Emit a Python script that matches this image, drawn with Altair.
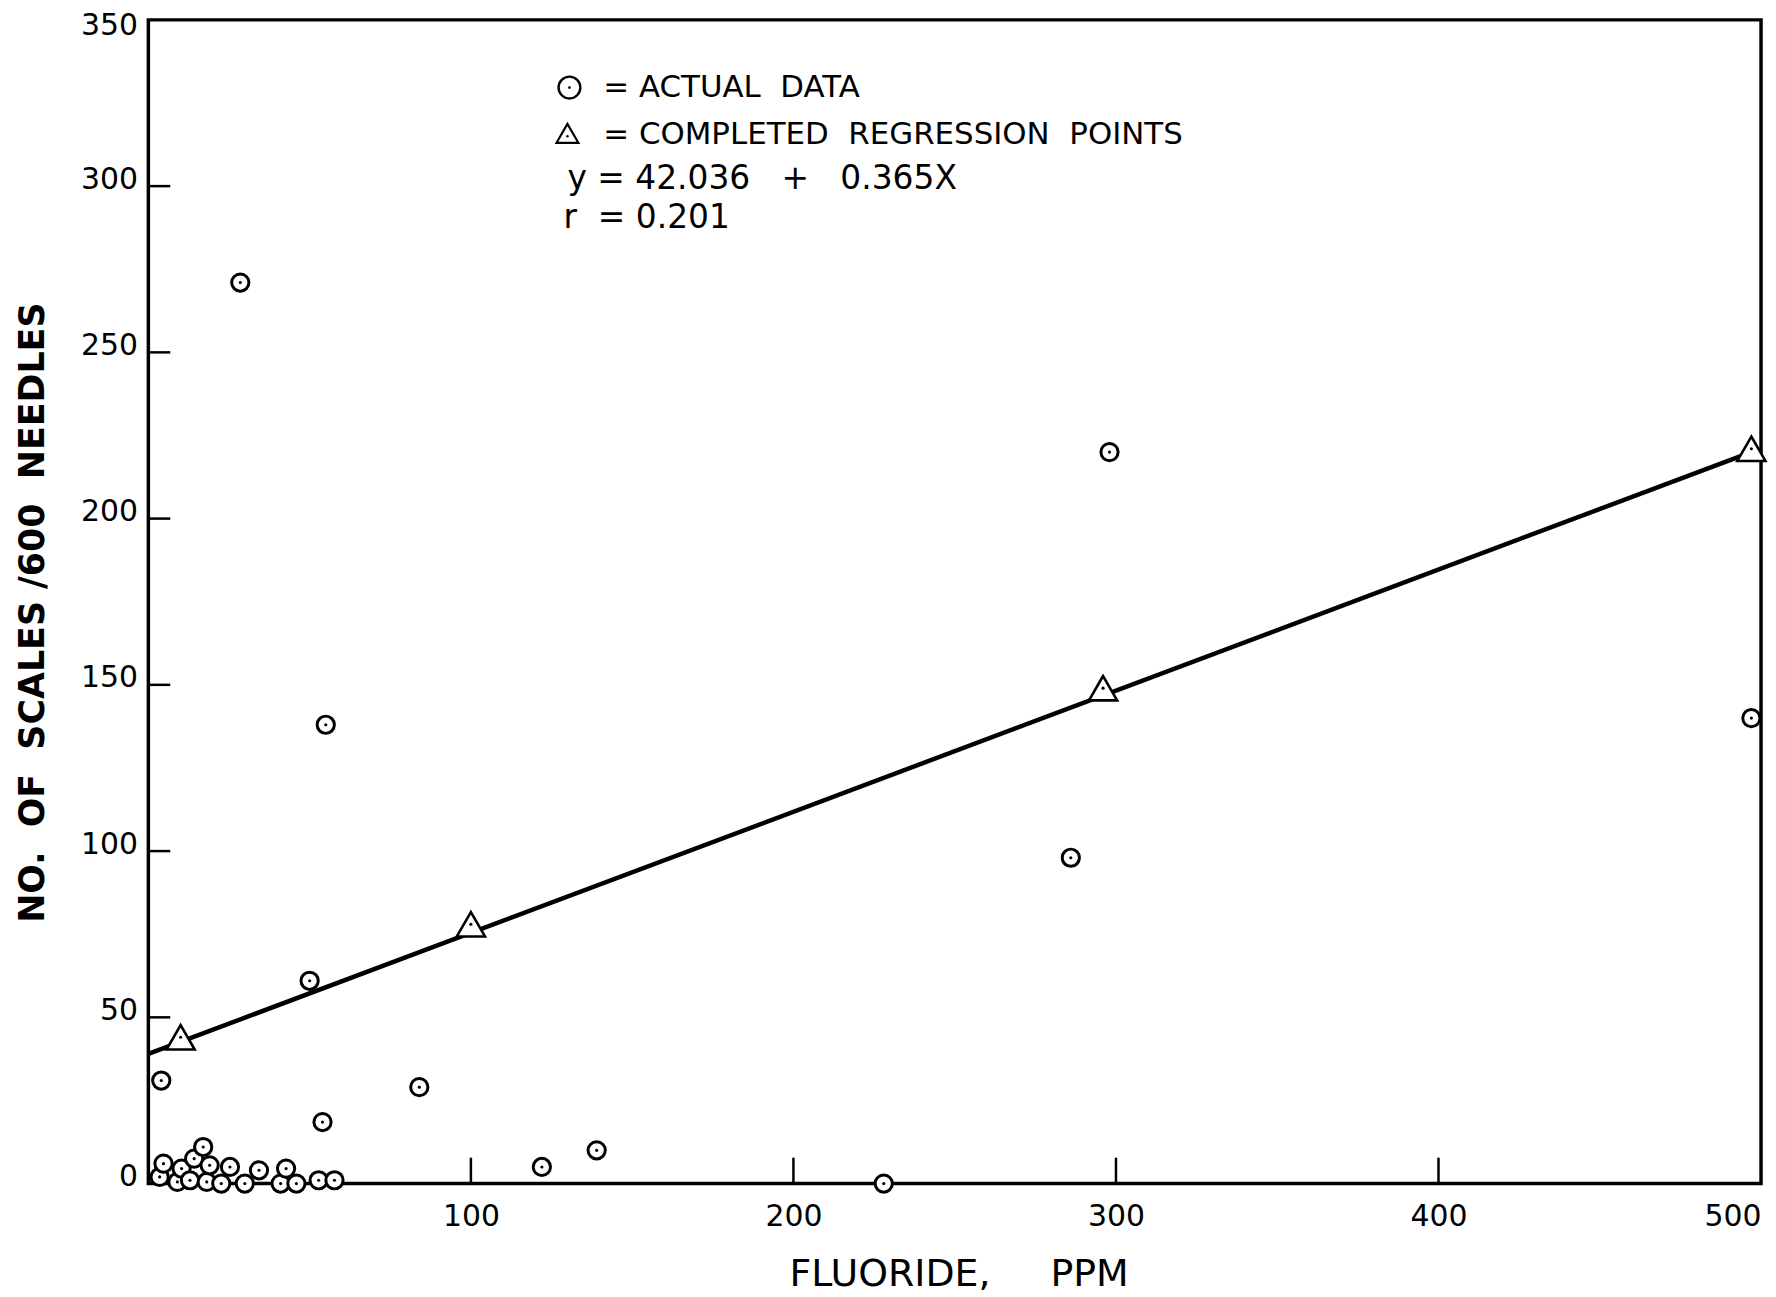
import altair as alt
import pandas as pd

# ---- data ----
actual_x = [28.5, 298, 55, 497, 286, 50, 4, 84, 54, 139, 122, 228,
            3.5, 4.7, 9, 10.3, 12.9, 14.2, 17, 18.1, 19, 22.6, 25.3,
            29.9, 34.3, 41, 42.7, 45.9, 52.8, 57.7]
actual_y = [271, 220, 138, 140, 98, 61, 31, 29, 18.5, 10, 5, 0,
            2, 6, 0.5, 4.5, 1, 7.5, 11, 0.5, 5.5, 0, 5,
            0, 4, 0, 4.5, 0, 1, 1]

regr_x = [10, 100, 296, 497]
regr_y = [44, 78, 149, 221]

line_x = [0, 497]
line_y = [39, 220]

x_ticks = [100, 200, 300, 400, 500]
y_ticks = [0, 50, 100, 150, 200, 250, 300, 350]
x_inner_ticks = [100, 200, 300, 400]
y_inner_ticks = [50, 100, 150, 200, 250, 300]

NB = "\u00a0"
legend_lines = ["=" + NB + "ACTUAL" + NB + NB + "DATA",
                "=" + NB + "COMPLETED" + NB + " REGRESSION" + NB + " POINTS"]
equation = "y = 42.036" + NB + NB + " +" + NB + NB + " 0.365X"
r_text = "r" + NB + NB + "= 0.201"
x_title = "FLUORIDE," + NB * 4 + " PPM"
y_title = "NO." + NB + " OF" + NB + " SCALES /600" + NB + " NEEDLES"

FONT = "DejaVu Sans"
W, H = 1620, 1169

actual = pd.DataFrame({"x": actual_x, "y": actual_y})
regr = pd.DataFrame({"x": regr_x, "y": regr_y})
line = pd.DataFrame({"x": line_x, "y": line_y})

xs = alt.Scale(domain=[0, 500], nice=False, zero=False)
ys = alt.Scale(domain=[0, 350], nice=False, zero=False)

X = alt.X("x:Q", scale=xs, axis=alt.Axis(
    values=x_ticks, title=x_title, grid=False, domain=False,
    ticks=False, labelFontSize=30, labelFont=FONT, labelColor="black",
    labelBaseline="middle", labelPadding=33, labelFlush=False,
    labelAlign={"condition": {"test": "datum.value == 500", "value": "right"},
                "value": "center"},
    titleFont=FONT, titleFontSize=38, titleFontWeight="normal",
    titleColor="black", titleX=814, titleY=91, titleBaseline="middle"))
Y = alt.Y("y:Q", scale=ys, axis=alt.Axis(
    values=y_ticks, title=y_title, grid=False,
    domain=False, ticks=False, labelFontSize=30, labelFont=FONT,
    labelColor="black", labelPadding=11, labelFlush=False,
    labelOffset={"condition": {"test": "datum.value == 350", "value": 6},
                 "value": -7},
    titleFont=FONT, titleFontSize=35, titleFontWeight="bold",
    titleColor="black", titleX=-116, titleY=595, titleAngle=-90,
    titleBaseline="middle", titleAlign="center"))

base_line = alt.Chart(line).mark_line(color="black", strokeWidth=4.5).encode(x=X, y=Y)

xt = alt.Chart(pd.DataFrame({"x": x_inner_ticks})).mark_rule(
    color="black", strokeWidth=2.5).encode(
    x=X, y=alt.value(H), y2=alt.value(H - 26))
yt = alt.Chart(pd.DataFrame({"y": y_inner_ticks})).mark_rule(
    color="black", strokeWidth=2.5).encode(
    y=Y, x=alt.value(0), x2=alt.value(22))

circ = alt.Chart(actual).mark_point(
    shape="circle", filled=True, fill="white", stroke="black",
    strokeWidth=3, size=300, opacity=1, fillOpacity=1, strokeOpacity=1
).encode(x=X, y=Y)
circ_dot = alt.Chart(actual).mark_point(
    shape="circle", filled=True, color="black", size=10, opacity=1
).encode(x=X, y=Y)

tri = alt.Chart(regr).mark_point(
    shape="triangle-up", filled=True, fill="white", stroke="black",
    strokeWidth=2.6, size=800, opacity=1, fillOpacity=1, strokeOpacity=1
).encode(x=X, y=Y)
tri_dot = alt.Chart(regr).mark_point(
    shape="circle", filled=True, color="black", size=10, opacity=1
).encode(x=X, y=Y)

# ---- legend block ----
leg_df = pd.DataFrame({"t": [0]})
leg_circle = alt.Chart(leg_df).mark_point(
    shape="circle", filled=True, fill="white", stroke="black",
    strokeWidth=2.4, size=480, opacity=1).encode(x=alt.value(423), y=alt.value(68))
leg_circle_dot = alt.Chart(leg_df).mark_point(
    shape="circle", filled=True, color="black", size=8, opacity=1).encode(
    x=alt.value(423), y=alt.value(68))
leg_tri = alt.Chart(leg_df).mark_point(
    shape="triangle-up", filled=True, fill="white", stroke="black",
    strokeWidth=2.2, size=480, opacity=1).encode(x=alt.value(421), y=alt.value(114))
leg_tri_dot = alt.Chart(leg_df).mark_point(
    shape="circle", filled=True, color="black", size=6, opacity=1).encode(
    x=alt.value(421), y=alt.value(117))

def txt(s, x, y, fs):
    return alt.Chart(leg_df).mark_text(
        text=s, align="left", baseline="middle", font=FONT, fontSize=fs,
        color="black").encode(x=alt.value(x), y=alt.value(y))

legend = (leg_circle + leg_circle_dot + leg_tri + leg_tri_dot
          + txt(legend_lines[0], 457, 68, 31) + txt(legend_lines[1], 457, 116, 31)
          + txt(equation, 421, 160, 33) + txt(r_text, 417, 199, 33))

chart = alt.layer(
    xt, yt, base_line, circ, circ_dot, tri, tri_dot, legend
).properties(
    width=W, height=H,
    autosize=alt.AutoSizeParams(type="none"),
    padding={"left": 141, "top": 9, "right": 7, "bottom": 110},
    background="white",
).configure_view(stroke="black", strokeWidth=3.5)

chart.save("out.html", embed_options={"renderer": "svg", "actions": False})
